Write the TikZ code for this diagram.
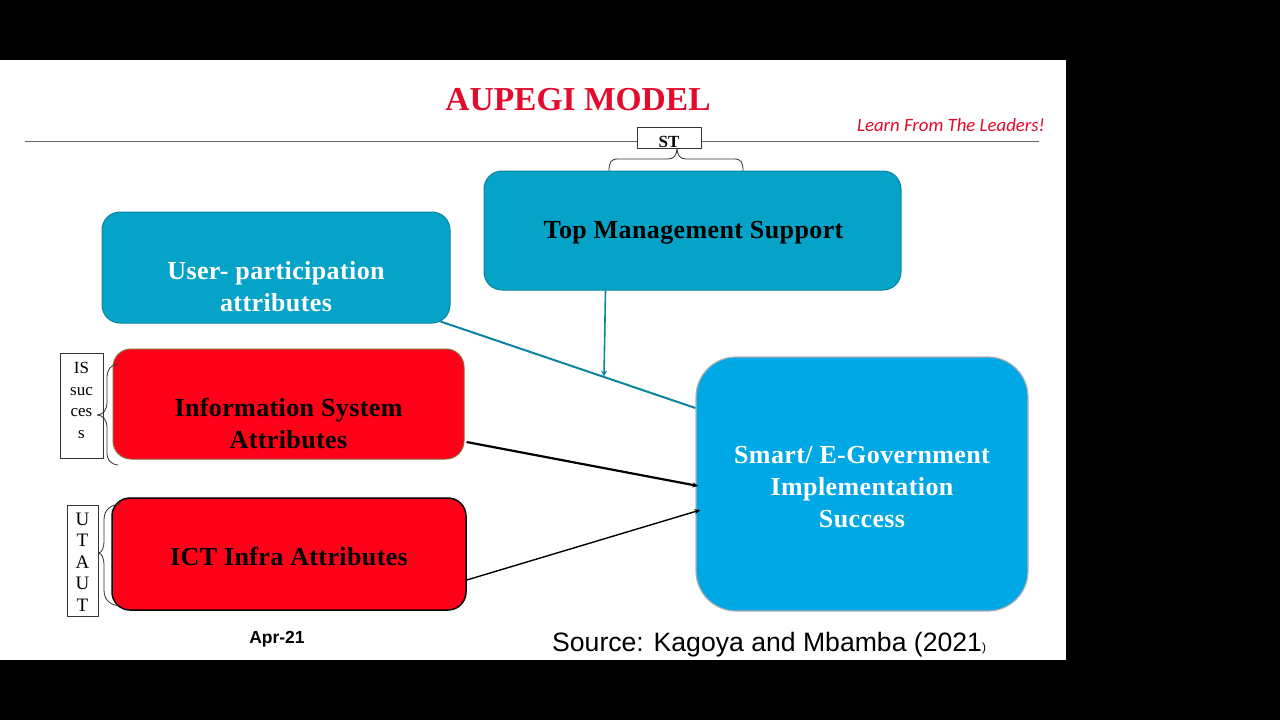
\documentclass[tikz,border=0pt]{standalone}
\usepackage{fontspec}
\setmainfont{Liberation Serif}
\newfontfamily\blockfont[LetterSpace=1.5]{Liberation Serif}
\newfontfamily\sansfont{Liberation Sans}
\newfontfamily\handfont{Carlito}
\usetikzlibrary{arrows.meta,positioning,calc}
\definecolor{tealfill}{HTML}{05A3C7}
\definecolor{tealedge}{HTML}{0B84A0}
\definecolor{skyfill}{HTML}{00A8E6}
\definecolor{redfill}{HTML}{FF0019}
\definecolor{titlered}{HTML}{E30B2C}
\tikzset{
  block/.style={rounded corners=18pt,inner sep=0pt},
  blocktext/.style={align=center,inner sep=0pt,
    font=\blockfont\bfseries\fontsize{26}{32}\selectfont},
  tagbox/.style={draw=black!80,fill=white,line width=0.8pt,inner sep=0pt,align=center,
    font=\fontsize{17}{21.5}\selectfont},
  feed/.style={line width=1.2pt,-{Stealth[length=6pt,width=5pt]}},
  brace/.style={line width=0.8pt,black!80},
}
\begin{document}
\begin{tikzpicture}[x=1pt,y=-1pt,line join=round]
\useasboundingbox (0,0) rectangle (1280,720);
\fill[black] (0,0) rectangle (1280,720);
\fill[white] (0,60) rectangle (1066,660);
% heading
\node (title) at (578,100) {\bfseries\fontsize{33.5}{36}\selectfont\color{titlered}AUPEGI MODEL};
\node (tagline) at (951,125) {\handfont\itshape\fontsize{18.8}{22}\selectfont\color{titlered}Learn From The Leaders!};
\coordinate (ruleL) at (25,141);
\coordinate (ruleR) at (1039,141);
\draw[black!60,line width=0.7pt] (ruleL)--(ruleR);
% blocks
\node[block,fill=tealfill,draw=tealedge,line width=1pt,minimum width=348pt,minimum height=111pt] (user) at (276,267.5) {};
\node[block,fill=tealfill,draw=tealedge,line width=1pt,minimum width=417pt,minimum height=119pt] (top) at (692.5,230.5) {};
\node[block,fill=redfill,draw=black!35!orange!60!gray,line width=1pt,minimum width=351pt,minimum height=110pt] (info) at (288.5,404) {};
\node[block,fill=redfill,draw=black,line width=1.5pt,minimum width=354pt,minimum height=112pt] (ict) at (289,554) {};
\node[block,rounded corners=40pt,fill=skyfill,draw=black!30,line width=1.2pt,minimum width=332pt,minimum height=254pt] (smart) at (862,484) {};
\node[blocktext,text=white] (usertext) at (276,287) {User- participation\\attributes};
\node[blocktext] (toptext) at (693.5,233) {Top Management Support};
\node[blocktext] (infotext) at (288.5,423) {Information System\\Attributes};
\node[blocktext] (icttext) at (289,556) {ICT Infra Attributes};
\node[blocktext,text=white] (smarttext) at (862,487) {Smart/ E-Government\\Implementation\\Success};
% connectors
\coordinate (userout) at ($(user.south east)+(-10,-2)$);
\coordinate (smartin) at ($(smart.west)+(0,-76)$);
\coordinate (topout) at ($(top.south west)+(122,0)$);
\coordinate (joinpt) at (604,376.5);
\draw[tealedge,line width=2pt] (userout)--(smartin);
\draw[tealedge,line width=1.6pt,-{Stealth[length=6pt,width=6pt]}] (topout)--(joinpt);
\draw[feed,line width=2.2pt] ($(info.east)+(2,38)$)--($(smart.west)+(3,2)$);
\draw[feed,line width=1.4pt] ($(ict.east)+(0,26)$)--($(smart.west)+(5,26)$);
% side labels
\node[tagbox,minimum width=64pt,minimum height=21pt] (st) at (669,138) {};
\node (sttext) at (669,142) {\bfseries\fontsize{17}{20}\selectfont ST};
\node[tagbox,minimum width=43pt,minimum height=105pt] (is) at (81.5,405.5) {};
\node[align=center,inner sep=0pt,font=\fontsize{17}{21.5}\selectfont] (istext) at (81.5,400.5) {IS\\suc\\ces\\s};
\node[tagbox,minimum width=31pt,minimum height=111pt] (utaut) at (82.5,561) {};
\node[align=center,inner sep=0pt,font=\fontsize{19}{21.5}\selectfont] (utauttext) at (82.5,562) {U\\T\\A\\U\\T};
\draw[brace] (609,171) .. controls (609,162) and (611,159) .. (618,159) -- (668,159) .. controls (674,159) and (677,155) .. (677,148) .. controls (677,155) and (680,159) .. (686,159) -- (734,159) .. controls (741,159) and (743,162) .. (743,171);
\draw[brace] (118,364) .. controls (110,365) and (107,370) .. (107,378) -- (107,402) .. controls (107,410) and (103,415) .. (97,415) .. controls (103,415) and (107,420) .. (107,428) -- (107,452) .. controls (107,460) and (110,464) .. (118,465);
\draw[brace] (120,504) .. controls (110,505) and (104,510) .. (104,520) -- (104,540) .. controls (104,548) and (102,553) .. (98,553) .. controls (102,553) and (104,558) .. (104,566) -- (104,590) .. controls (104,600) and (110,605) .. (120,606);
% footer
\node (date) at (277,639) {\sansfont\bfseries\fontsize{17.5}{18}\selectfont Apr-21};
\node[anchor=west,inner sep=0pt] (source) at (552,645) {\sansfont\fontsize{26.6}{28}\selectfont Source: Kagoya and Mbamba (2021\fontsize{12}{14}\selectfont)};
\end{tikzpicture}
\end{document}
